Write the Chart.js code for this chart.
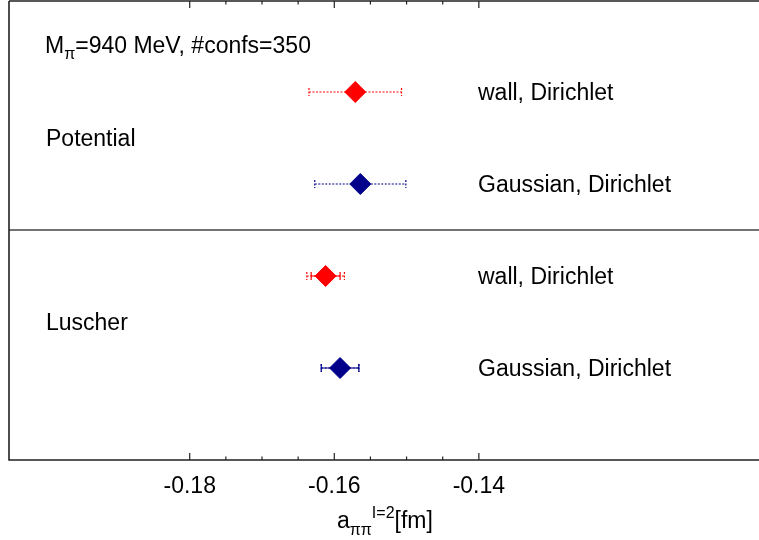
<!DOCTYPE html>
<html>
<head>
<meta charset="utf-8">
<script src="https://cdn.jsdelivr.net/npm/chart.js@4.4.1/dist/chart.umd.min.js"></script>
<style>
  html, body { margin: 0; padding: 0; background: #fff; overflow: hidden; }
  canvas { display: block; }
</style>
</head>
<body>
<canvas id="chart" width="770" height="540"></canvas>
<script>
// pi-pi I=2 scattering length, potential method vs Luscher formula
const rowLabels = ['wall, Dirichlet', 'Gaussian, Dirichlet', 'wall, Dirichlet', 'Gaussian, Dirichlet'];
const rowY = [4, 3, 2, 1];
const scatteringLength = [-0.1571, -0.1564, -0.1612, -0.1592];
const statErr = [null, null, 0.0020, 0.0026];
const totalErr = [0.0064, 0.0063, 0.0026, 0.0026];

const groupLabels = ['Potential', 'Luscher'];
const groupY = [3.5, 1.5];
const dividerY = 2.5;
const headerY = 4.5;

const majorTicks = [-0.18, -0.16, -0.14];
const tickLabels = ['-0.18', '-0.16', '-0.14'];
const minorTicks = [-0.175, -0.17, -0.165, -0.155, -0.15, -0.145];

const xMin = -0.205, xMax = -0.10;
const yMin = 0, yMax = 5;

const RED = '#ff0000';
const NAVY = '#00008b';
const pointColors = [RED, NAVY, RED, NAVY];
const FONT = '"Liberation Sans", Arial, Helvetica, sans-serif';

function hBar(ctx, x1, x2, y, dashed) {
    ctx.save();
    ctx.lineWidth = 1.2;
    ctx.setLineDash(dashed ? [2, 1.5] : []);
    ctx.beginPath();
    ctx.moveTo(x1, y); ctx.lineTo(x2, y);
    ctx.moveTo(x1, y - 4); ctx.lineTo(x1, y + 4);
    ctx.moveTo(x2, y - 4); ctx.lineTo(x2, y + 4);
    ctx.stroke();
    ctx.restore();
}

// texto com subscrito/sobrescrito
function richText(ctx, parts, x, y) {
    parts.forEach(p => {
        ctx.font = p.size + 'px ' + FONT;
        ctx.fillText(p.t, x, y + (p.dy || 0));
        x += ctx.measureText(p.t).width;
    });
}

const errorBars = {
    id: 'errorBars',
    beforeDatasetsDraw(chart) {
        const {ctx, scales: {x, y}} = chart;
        scatteringLength.forEach((v, i) => {
            const py = y.getPixelForValue(rowY[i]);
            ctx.strokeStyle = pointColors[i];
            hBar(ctx, x.getPixelForValue(v - totalErr[i]), x.getPixelForValue(v + totalErr[i]), py, true);
            if (statErr[i]) {
                hBar(ctx, x.getPixelForValue(v - statErr[i]), x.getPixelForValue(v + statErr[i]), py, false);
            }
        });
    }
};

const frame = {
    id: 'frame',
    afterDraw(chart) {
        const {ctx, chartArea: a, scales: {x, y}} = chart;
        ctx.save();

        // divisória entre os dois métodos
        const dy = y.getPixelForValue(dividerY);
        ctx.strokeStyle = '#444';
        ctx.lineWidth = 1.5;
        ctx.beginPath();
        ctx.moveTo(a.left, dy); ctx.lineTo(a.right, dy);
        ctx.stroke();

        // moldura
        const top = a.top + 1;
        ctx.strokeStyle = '#222';
        ctx.lineWidth = 1.6;
        ctx.beginPath();
        ctx.moveTo(a.left, top); ctx.lineTo(a.right, top);
        ctx.lineTo(a.right, a.bottom); ctx.lineTo(a.left, a.bottom);
        ctx.lineTo(a.left, top);
        ctx.stroke();

        // marcas do eixo (para dentro, em cima e embaixo)
        ctx.lineWidth = 1.2;
        ctx.beginPath();
        majorTicks.forEach(v => {
            const px = x.getPixelForValue(v);
            ctx.moveTo(px, a.bottom); ctx.lineTo(px, a.bottom - 7);
            ctx.moveTo(px, top); ctx.lineTo(px, top + 7);
        });
        minorTicks.forEach(v => {
            const px = x.getPixelForValue(v);
            ctx.moveTo(px, a.bottom); ctx.lineTo(px, a.bottom - 3.5);
            ctx.moveTo(px, top); ctx.lineTo(px, top + 3.5);
        });
        ctx.stroke();

        ctx.fillStyle = '#000';
        ctx.textBaseline = 'alphabetic';

        // rótulos do eixo x
        ctx.font = '23px ' + FONT;
        ctx.textAlign = 'center';
        majorTicks.forEach((v, i) => {
            ctx.fillText(tickLabels[i], x.getPixelForValue(v), 493);
        });

        ctx.textAlign = 'left';
        richText(ctx, [
            {t: 'a', size: 23},
            {t: '\u03c0\u03c0', size: 16, dy: 7},
            {t: 'I=2', size: 16, dy: -10},
            {t: '[fm]', size: 23}
        ], 337, 528);

        // cabeçalho
        richText(ctx, [
            {t: 'M', size: 23},
            {t: '\u03c0', size: 16, dy: 6},
            {t: '=940 MeV, #confs=350', size: 23}
        ], 45, y.getPixelForValue(headerY) + 7);

        ctx.font = '23px ' + FONT;
        ctx.textBaseline = 'middle';
        groupLabels.forEach((t, i) => ctx.fillText(t, 46, y.getPixelForValue(groupY[i]) + 2));
        rowLabels.forEach((t, i) => ctx.fillText(t, 478, y.getPixelForValue(rowY[i]) + 2));

        ctx.restore();
    }
};

const ctx = document.getElementById('chart').getContext('2d');

new Chart(ctx, {
    type: 'scatter',
    data: {
        datasets: [{
            data: scatteringLength.map((v, i) => ({x: v, y: rowY[i]})),
            pointStyle: 'rectRot',
            pointRadius: 10.5,
            pointBorderWidth: 1,
            pointBackgroundColor: pointColors,
            pointBorderColor: pointColors,
            clip: false
        }]
    },
    options: {
        responsive: false,
        animation: false,
        layout: {autoPadding: false, padding: {left: 9, top: 0, right: 2, bottom: 80}},
        scales: {
            x: {type: 'linear', min: xMin, max: xMax, display: false},
            y: {type: 'linear', min: yMin, max: yMax, display: false}
        },
        plugins: {
            legend: {display: false},
            tooltip: {enabled: false}
        }
    },
    plugins: [errorBars, frame]
});
</script>
</body>
</html>
